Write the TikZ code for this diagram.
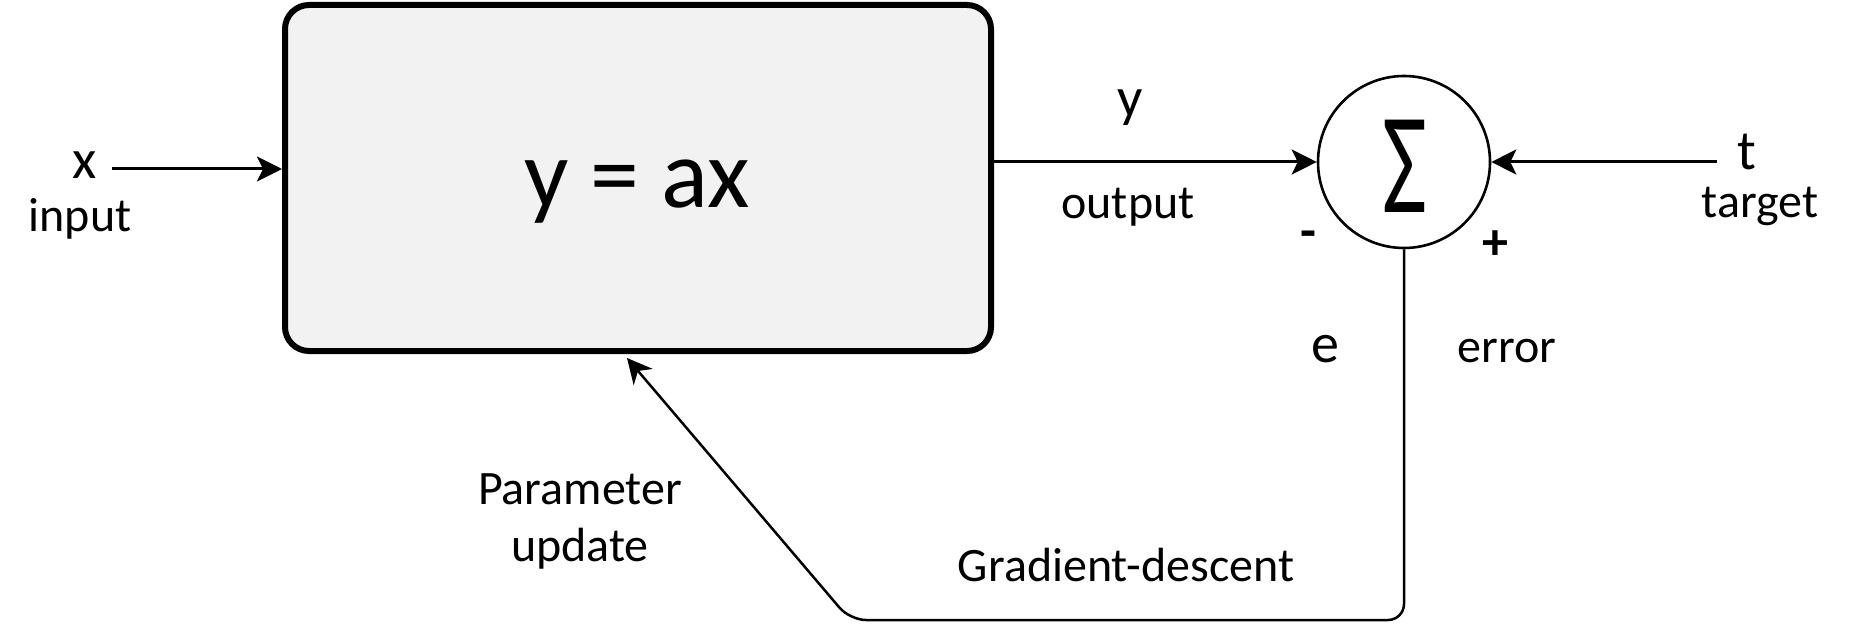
\documentclass[tikz,border=0pt]{standalone}
\usepackage{fontspec}
\setmainfont{Carlito}
\usepackage{xcolor}
\usetikzlibrary{arrows.meta}
\usetikzlibrary{positioning}

\definecolor{boxfill}{HTML}{F2F2F2}

\tikzset{
  flow/.style={line width=1.5pt, -{Stealth[length=12.5pt, width=12.5pt, inset=3pt]}},
  word/.style={font=\fontsize{24}{28}\selectfont, inner sep=0pt, anchor=base},
  var/.style={font=\fontsize{28}{32}\selectfont, inner sep=0pt, anchor=base},
  sign/.style={font=\fontsize{26}{30}\selectfont\bfseries, inner sep=0pt},
}

\begin{document}
\begin{tikzpicture}[x=0.5pt, y=-0.5pt]
  \useasboundingbox (0,0) rectangle (1850,625);

  % system block and summing junction
  \node[draw, line width=3pt, rounded corners=12pt, fill=boxfill,
        minimum width=353pt, minimum height=173pt] (sys) at (638,178) {};
  \node[inner sep=0pt, anchor=base, font=\fontsize{49}{56}\selectfont] (formula) at (637,208) {y = ax};
  \node[draw, circle, line width=1.3pt, minimum size=86pt, inner sep=0pt] (sum) at (1404,162) {};
  \node[inner sep=0pt, font=\fontsize{72}{78}\selectfont] (sigma) at (1405,166) {\scalebox{0.68}[1]{Σ}};

  % free ends
  \coordinate (xin) at (112,169);
  \coordinate (tin) at (1717,162);
  \coordinate (bend) at (850,620);
  \coordinate (upd) at (627,358);

  % connectors
  \draw[flow] (xin) -- (xin -| sys.west);
  \draw[flow] (sys.east |- sum.west) -- (sum.west);
  \draw[flow] (tin) -- (sum.east);
  \draw[line width=1.25pt, rounded corners=8pt,
        -{Stealth[length=12.5pt, width=12.5pt, inset=4pt]}]
    (sum.south) |- (bend) -- (upd);

  % labels
  \node[var] (xlab) at (85,179) {x};
  \node[word] (inlab) at (80,232) {input};
  \node[var] (ylab) at (1130,117) {y};
  \node[word] (outlab) at (1128,219) {output};
  \node[var] (tlab) at (1747,170) {t};
  \node[word] (tarlab) at (1760,218) {target};
  \node[var] (elab) at (1325,363) {e};
  \node[word] (errlab) at (1507,363) {error};
  \node[sign] (minus) at (1308,240) {-};
  \node[sign] (plus) at (1495,245) {+};
  \node[word] (par1) at (580,504) {Parameter};
  \node[word] (par2) at (580,561) {update};
  \node[word] (gdlab) at (1126,581) {Gradient-descent};
\end{tikzpicture}
\end{document}
